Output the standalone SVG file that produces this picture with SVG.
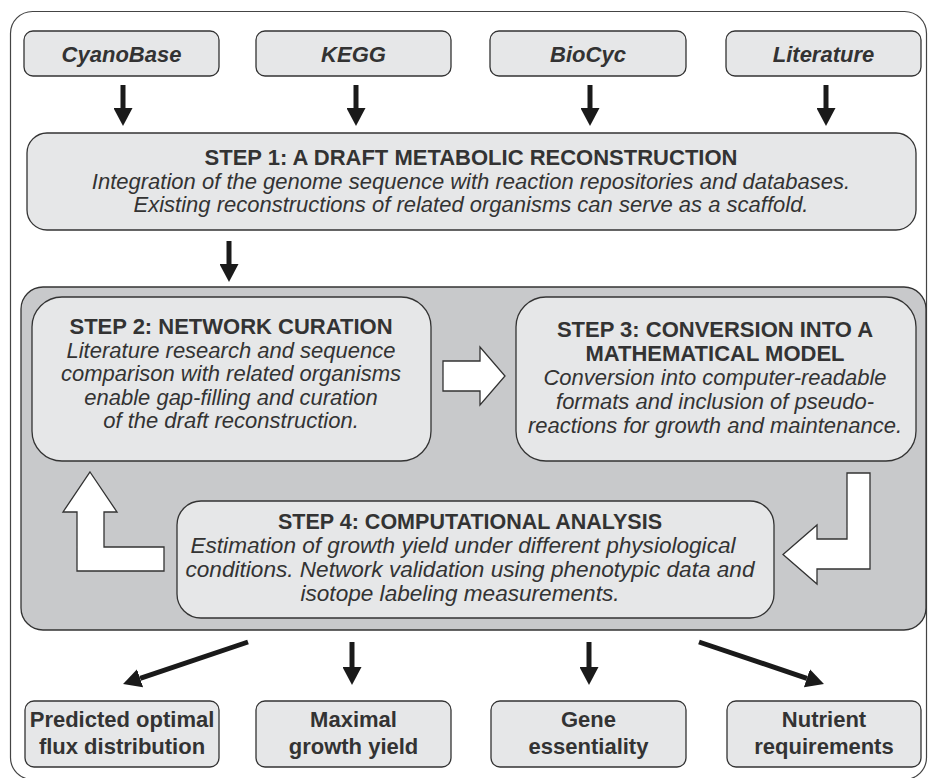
<svg xmlns="http://www.w3.org/2000/svg" width="928" height="778" viewBox="0 0 928 778">
<defs>
<marker id="ah" markerUnits="userSpaceOnUse" markerWidth="19" markerHeight="19" refX="0" refY="9.5" orient="auto" viewBox="0 0 19 19">
<path d="M0,0 L18,9.5 L0,19 z" fill="#1a1a1a"/>
</marker>
<style>
.frame{fill:#fff;stroke:#444;stroke-width:1.2}
.box{fill:#e6e7e8;stroke:#333;stroke-width:1.3}
.cont{fill:#c8c9cb;stroke:#333;stroke-width:1.3}
.blk{fill:#fff;stroke:#333;stroke-width:1.3;stroke-linejoin:miter}
.arr{stroke:#1a1a1a;stroke-width:5;fill:none;marker-end:url(#ah)}
text{font-family:"Liberation Sans",Arial,sans-serif;fill:#333;text-anchor:middle;font-size:22px}
.src{font-weight:bold;font-style:italic}
.t{font-weight:bold}
.i{font-style:italic}
.i4{font-style:italic;font-size:22.6px}
</style>
</defs>
<rect class="frame" x="10.5" y="11.5" width="916" height="768" rx="22"/>

<g id="cyanobase"><rect class="box" x="24" y="31" width="195" height="45" rx="9"/><text class="src" x="121.5" y="61.5">CyanoBase</text></g>
<g id="kegg"><rect class="box" x="256" y="31" width="195" height="45" rx="9"/><text class="src" x="353.5" y="61.5">KEGG</text></g>
<g id="biocyc"><rect class="box" x="490" y="31" width="196" height="45" rx="9"/><text class="src" x="588" y="61.5">BioCyc</text></g>
<g id="literature"><rect class="box" x="726" y="31" width="195" height="45" rx="9"/><text class="src" x="823.5" y="61.5">Literature</text></g>

<g id="step1"><rect class="box" x="27" y="133" width="889" height="97" rx="20"/>
<text class="t" x="471" y="165">STEP 1: A DRAFT METABOLIC RECONSTRUCTION</text>
<text class="i" x="471" y="188.5">Integration of the genome sequence with reaction repositories and databases.</text>
<text class="i" x="471" y="212">Existing reconstructions of related organisms can serve as a scaffold.</text></g>

<g id="cycle"><rect class="cont" x="21" y="287" width="905" height="343" rx="22"/></g>

<g id="step2"><rect class="box" x="32" y="297" width="399" height="164" rx="30"/>
<text class="t" x="231" y="334">STEP 2: NETWORK CURATION</text>
<text class="i" x="231" y="357.5">Literature research and sequence</text>
<text class="i" x="231" y="381">comparison with related organisms</text>
<text class="i" x="231" y="404.5">enable gap-filling and curation</text>
<text class="i" x="231" y="428">of the draft reconstruction.</text></g>

<g id="step3"><rect class="box" x="516" y="297" width="400" height="164" rx="30"/>
<text class="t" x="715" y="337">STEP 3: CONVERSION INTO A</text>
<text class="t" x="715" y="360.5">MATHEMATICAL MODEL</text>
<text class="i" x="715" y="385">Conversion into computer-readable</text>
<text class="i" x="715" y="408.5">formats and inclusion of pseudo-</text>
<text class="i" x="715" y="432.5">reactions for growth and maintenance.</text></g>

<g id="step4"><rect class="box" x="177" y="501" width="597" height="117" rx="24"/>
<text class="t" x="470" y="529" textLength="384" lengthAdjust="spacingAndGlyphs">STEP 4: COMPUTATIONAL ANALYSIS</text>
<text class="i4" x="463" y="553">Estimation of growth yield under different physiological</text>
<text class="i4" x="470" y="577">conditions. Network validation using phenotypic data and</text>
<text class="i4" x="460" y="601">isotope labeling measurements.</text></g>

<g id="predicted"><rect class="box" x="25" y="701" width="194" height="66" rx="9"/><text class="t" x="122" y="727">Predicted optimal</text><text class="t" x="122" y="754">flux distribution</text></g>
<g id="maximal"><rect class="box" x="256" y="701" width="195" height="66" rx="9"/><text class="t" x="353.5" y="727">Maximal</text><text class="t" x="353.5" y="754">growth yield</text></g>
<g id="gene"><rect class="box" x="491" y="701" width="195" height="66" rx="9"/><text class="t" x="588.5" y="727">Gene</text><text class="t" x="588.5" y="754">essentiality</text></g>
<g id="nutrient"><rect class="box" x="727" y="701" width="194" height="66" rx="9"/><text class="t" x="824" y="727">Nutrient</text><text class="t" x="824" y="754">requirements</text></g>

<g id="connectors">
<line class="arr" x1="123" y1="85" x2="123" y2="108"/>
<line class="arr" x1="356" y1="85" x2="356" y2="108"/>
<line class="arr" x1="590" y1="85" x2="590" y2="108"/>
<line class="arr" x1="826" y1="85" x2="826" y2="108"/>
<line class="arr" x1="229" y1="241" x2="229" y2="264"/>
<polygon class="blk" points="443,361 480,361 480,347 505,376 480,405 480,391 443,391"/>
<polygon class="blk" points="847,473 870,473 870,569 817,569 817,584 783,554.5 817,525 817,539 847,539"/>
<polygon class="blk" points="90,472 117,512 104,512 104,547 164,547 164,571 77,571 77,512 63,512"/>
<line class="arr" x1="248" y1="642" x2="140.1" y2="678.3"/>
<line class="arr" x1="352" y1="642" x2="352" y2="667"/>
<line class="arr" x1="589" y1="642" x2="589" y2="667"/>
<line class="arr" x1="699" y1="642" x2="806.9" y2="678.3"/>
</g>
</svg>
